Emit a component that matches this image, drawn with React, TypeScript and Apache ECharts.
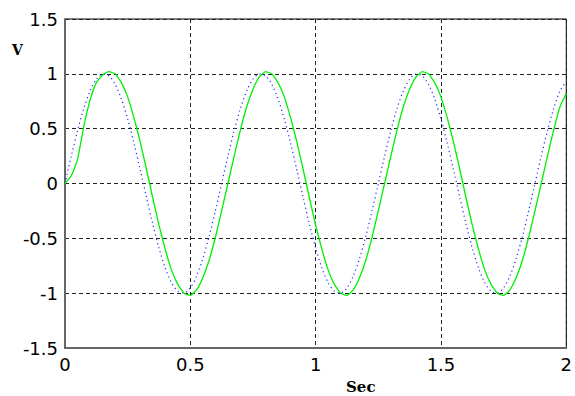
import React, { useEffect, useRef } from "react";
import * as echarts from "echarts";

const timeSec = [
  0, 0.025, 0.05, 0.075, 0.1, 0.125, 0.15, 0.175, 0.2, 0.225,
  0.25, 0.275, 0.3, 0.325, 0.35, 0.375, 0.4, 0.425, 0.45, 0.475,
  0.5, 0.525, 0.55, 0.575, 0.6, 0.625, 0.65, 0.675, 0.7, 0.725,
  0.75, 0.775, 0.8, 0.825, 0.85, 0.875, 0.9, 0.925, 0.95, 0.975,
  1.0, 1.025, 1.05, 1.075, 1.1, 1.125, 1.15, 1.175, 1.2, 1.225,
  1.25, 1.275, 1.3, 1.325, 1.35, 1.375, 1.4, 1.425, 1.45, 1.475,
  1.5, 1.525, 1.55, 1.575, 1.6, 1.625, 1.65, 1.675, 1.7, 1.725,
  1.75, 1.775, 1.8, 1.825, 1.85, 1.875, 1.9, 1.925, 1.95, 1.975,
  2.0,
];

const inputVolts = [
  0, 0.249, 0.482, 0.685, 0.844, 0.951, 0.998, 0.982, 0.905, 0.771,
  0.588, 0.368, 0.125, -0.125, -0.368, -0.588, -0.771, -0.905, -0.982, -0.998,
  -0.951, -0.844, -0.685, -0.482, -0.249, 0, 0.249, 0.482, 0.685, 0.844,
  0.951, 0.998, 0.982, 0.905, 0.771, 0.588, 0.368, 0.125, -0.125, -0.368,
  -0.588, -0.771, -0.905, -0.982, -0.998, -0.951, -0.844, -0.685, -0.482, -0.249,
  0, 0.249, 0.482, 0.685, 0.844, 0.951, 0.998, 0.982, 0.905, 0.771,
  0.588, 0.368, 0.125, -0.125, -0.368, -0.588, -0.771, -0.905, -0.982, -0.998,
  -0.951, -0.844, -0.685, -0.482, -0.249, 0, 0.249, 0.482, 0.685, 0.844,
  0.93,
];

const outputVolts = [
  0, 0.07, 0.22, 0.52, 0.76, 0.92, 0.99, 1.02, 1.0, 0.92,
  0.79, 0.6, 0.38, 0.13, -0.13, -0.38, -0.6, -0.79, -0.92, -1.0,
  -1.02, -0.97, -0.86, -0.7, -0.49, -0.25, 0, 0.25, 0.49, 0.7,
  0.86, 0.97, 1.02, 1.0, 0.92, 0.79, 0.6, 0.38, 0.13, -0.13,
  -0.38, -0.6, -0.79, -0.92, -1.0, -1.02, -0.97, -0.86, -0.7, -0.49,
  -0.25, 0, 0.25, 0.49, 0.7, 0.86, 0.97, 1.02, 1.0, 0.92,
  0.79, 0.6, 0.38, 0.13, -0.13, -0.38, -0.6, -0.79, -0.92, -1.0,
  -1.02, -0.97, -0.86, -0.7, -0.49, -0.25, 0, 0.25, 0.49, 0.7,
  0.82,
];

const yLabel = "V";
const xLabel = "Sec";

export default function App() {
  const ref = useRef<HTMLDivElement>(null);
  useEffect(() => {
    if (!ref.current) return;
    const chart = echarts.init(ref.current, null, { renderer: "svg" });
    const labelFont = {
      color: "#000",
      fontFamily: "DejaVu Sans, sans-serif",
      fontSize: 18,
    };
    const dash = { color: "#222", width: 1, type: [4, 3] as number[] };
    chart.setOption({
      animation: false,
      backgroundColor: "#fff",
      grid: {
        left: 65,
        right: 8,
        top: 19,
        bottom: 48,
        show: true,
        borderColor: "#000",
        borderWidth: 1,
        backgroundColor: "transparent",
      },
      xAxis: {
        type: "value",
        min: 0,
        max: 2,
        interval: 0.5,
        axisLine: { show: true, onZero: false, lineStyle: { color: "#666", width: 2 } },
        axisTick: { show: false },
        axisLabel: { ...labelFont, margin: 7 },
        splitLine: { show: true, lineStyle: dash },
      },
      yAxis: {
        type: "value",
        min: -1.5,
        max: 1.5,
        interval: 0.5,
        axisLine: { show: true, onZero: false, lineStyle: { color: "#666", width: 2 } },
        axisTick: { show: false },
        axisLabel: { ...labelFont, margin: 7 },
        splitLine: { show: true, lineStyle: dash },
      },
      series: [
        {
          type: "line",
          data: timeSec.map((t, i) => [t, inputVolts[i]]),
          smooth: 0.3,
          showSymbol: false,
          lineStyle: { color: "#2a2aff", width: 1.2, type: [1.2, 3.2] },
          z: 3,
        },
        {
          type: "line",
          data: timeSec.map((t, i) => [t, outputVolts[i]]),
          smooth: 0.15,
          showSymbol: false,
          lineStyle: { color: "#00f000", width: 1.3 },
          z: 4,
        },
      ],
      graphic: [
        {
          type: "text",
          left: 12,
          top: 43,
          style: {
            text: yLabel,
            fill: "#000",
            font: "bold 14px 'DejaVu Serif', serif",
          },
        },
        {
          type: "text",
          left: 346,
          top: 379,
          style: {
            text: xLabel,
            fill: "#000",
            font: "bold 15px 'DejaVu Serif', serif",
          },
        },
      ],
    });
    return () => chart.dispose();
  }, []);
  return (
    <div
      ref={ref}
      style={{ position: "fixed", left: 0, top: 0, width: 575, height: 396 }}
    />
  );
}
